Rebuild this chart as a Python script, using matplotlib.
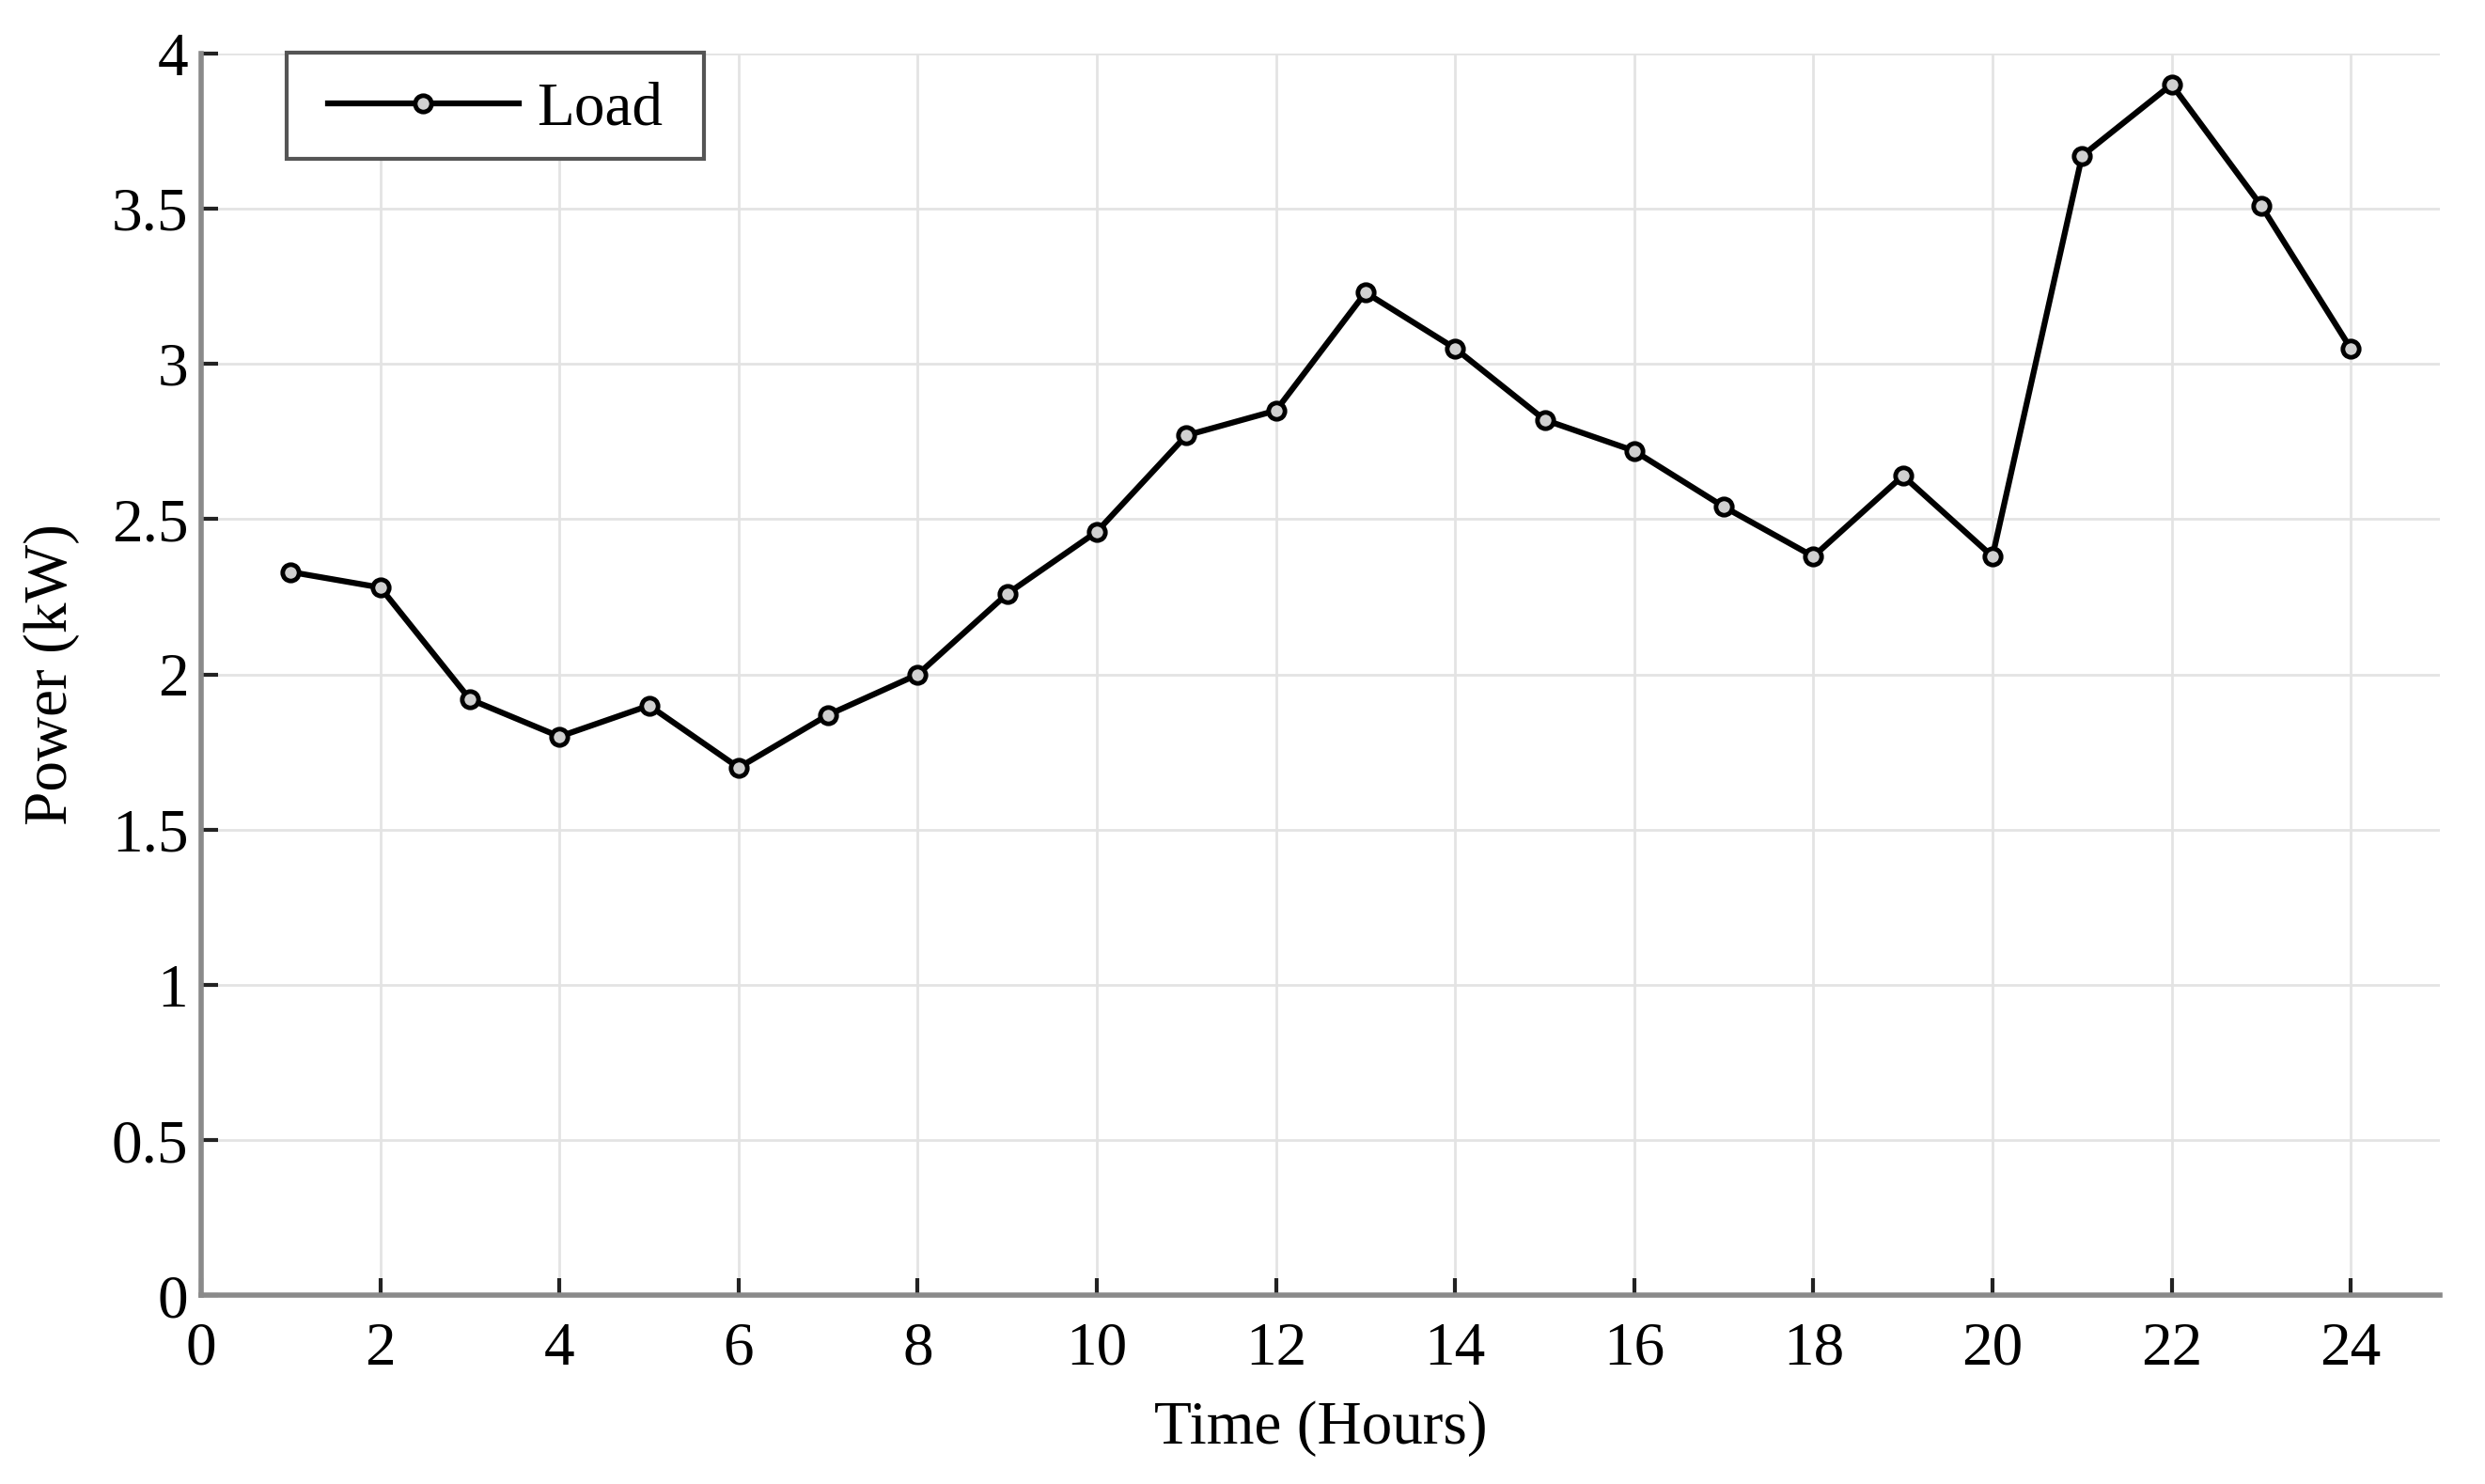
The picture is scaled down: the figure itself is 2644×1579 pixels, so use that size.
import numpy as np
import matplotlib
matplotlib.use('Agg')
import matplotlib.pyplot as plt
from matplotlib.patches import Rectangle

plt.rcParams['font.family'] = ['Liberation Serif', 'DejaVu Serif']

# Hourly load profile
hours = list(range(1, 25))
load_kw = [2.33, 2.28, 1.92, 1.80, 1.90, 1.70, 1.87, 2.00, 2.26, 2.46, 2.77, 2.85,
           3.23, 3.05, 2.82, 2.72, 2.54, 2.38, 2.64, 2.38, 3.67, 3.90, 3.51, 3.05]
x_ticks = list(range(0, 25, 2))
y_ticks = [0, 0.5, 1, 1.5, 2, 2.5, 3, 3.5, 4]
y_ticklabels = ['0', '0.5', '1', '1.5', '2', '2.5', '3', '3.5', '4']

fig = plt.figure(figsize=(26.44, 15.79), dpi=100)
ax = fig.add_axes([0.081, 0.127, 0.901, 0.837])

ax.plot(hours, load_kw, color='black', linewidth=4.5, marker='o', markersize=12.5,
        markerfacecolor='#d0d0d0', markeredgewidth=3.5, markeredgecolor='black', label='Load')

ax.set_xlim(0, 25)
ax.set_ylim(0, 4)
ax.set_xticks(x_ticks)
ax.set_yticks(y_ticks)
ax.set_yticklabels(y_ticklabels)

ax.grid(True, color='#e3e3e3', linewidth=2)
ax.set_axisbelow(True)

for s in ['top', 'right']:
    ax.spines[s].set_visible(False)
for s in ['left', 'bottom']:
    ax.spines[s].set_color('#8a8a8a')
    ax.spines[s].set_linewidth(4)

ax.tick_params(direction='in', length=13, width=3, color='#222222', labelsize=47)
ax.tick_params(axis='x', pad=20)
ax.tick_params(axis='y', pad=10)

ax.set_xlabel('Time (Hours)', fontsize=47, labelpad=18)
ax.set_ylabel('Power (kW)', fontsize=47, labelpad=24)

# legend frame (MATLAB-style box)
frame = Rectangle((0.1154, 0.893), 0.1679, 0.0715, transform=fig.transFigure,
                  facecolor='white', edgecolor='#555555', linewidth=3, zorder=5, clip_on=False)
ax.add_patch(frame)
leg = ax.legend(loc='center', bbox_to_anchor=(0.1994, 0.9262), bbox_transform=fig.transFigure,
                fontsize=47, frameon=False, handlelength=3.1, handletextpad=0.3)
leg.set_zorder(6)

fig.savefig('out.png', dpi=100)
